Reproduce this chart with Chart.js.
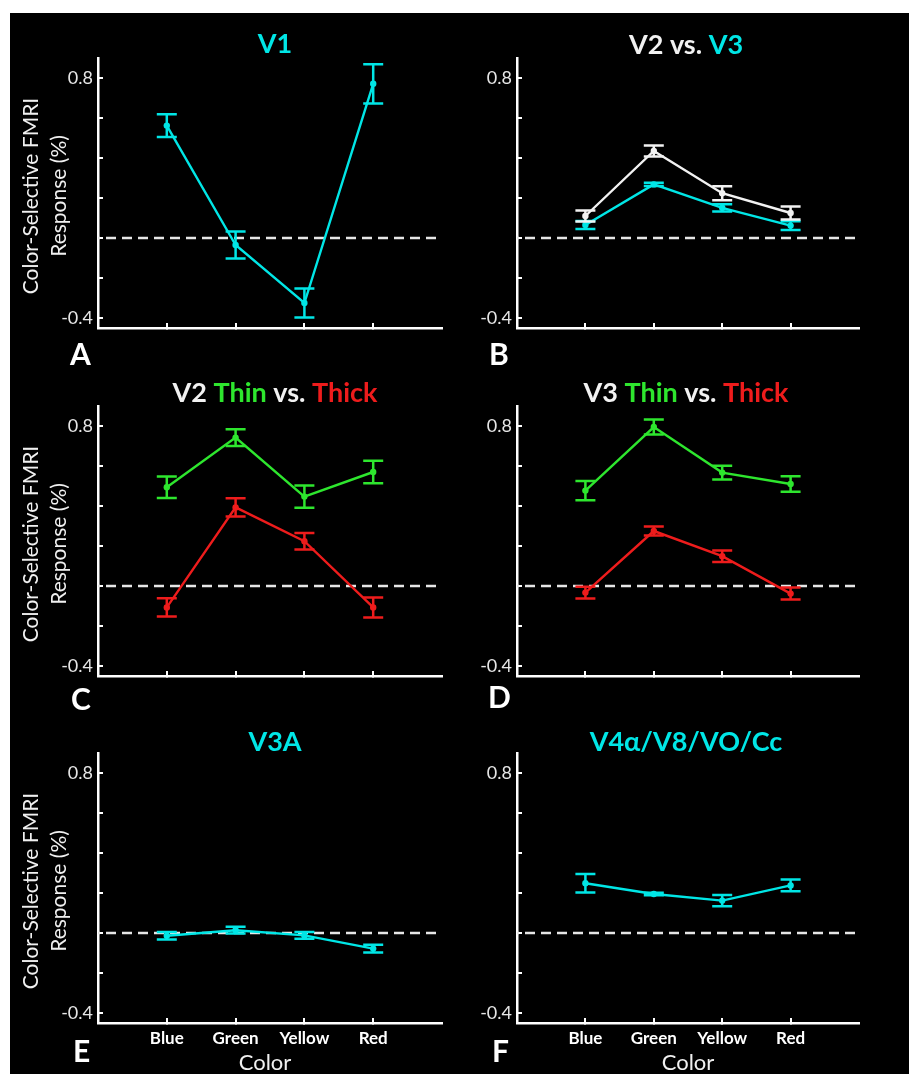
<!DOCTYPE html>
<html>
<head>
<meta charset="utf-8">
<script src="https://cdn.jsdelivr.net/npm/chart.js@4.4.1/dist/chart.umd.min.js"></script>
<style>
  body { margin: 0; background: #fff; }
  #page { position: relative; width: 909px; height: 1074px; overflow: hidden; }
  #black { position: absolute; left: 10px; top: 13px; width: 899px; height: 1061px; background: #000; }
  canvas { position: absolute; }
</style>
</head>
<body>
<div id="page">
  <div id="black"></div>
  <canvas id="chartA" width="445" height="357" style="left:10px;top:13px"></canvas>
  <canvas id="chartB" width="454" height="357" style="left:455px;top:13px"></canvas>
  <canvas id="chartC" width="445" height="350" style="left:10px;top:370px"></canvas>
  <canvas id="chartD" width="454" height="350" style="left:455px;top:370px"></canvas>
  <canvas id="chartE" width="445" height="354" style="left:10px;top:720px"></canvas>
  <canvas id="chartF" width="454" height="354" style="left:455px;top:720px"></canvas>
</div>
<script>
// Categories and tick values
const colorNames = ['Blue', 'Green', 'Yellow', 'Red'];
const colorPos = [1, 2, 3, 4];
const yTickValues = [-0.4, -0.2, 0, 0.2, 0.4, 0.6, 0.8];
const yLabelled = [-0.4, 0.8];

// Mean responses and error bars
const v1Mean = [0.562, -0.035, -0.325, 0.771];
const v1Err = [0.057, 0.067, 0.072, 0.098];

const v2Mean = [0.11, 0.435, 0.224, 0.125];
const v2Err = [0.027, 0.027, 0.035, 0.032];
const v3Mean = [0.065, 0.268, 0.151, 0.062];
const v3Err = [0.02, 0.008, 0.018, 0.022];

const v2ThinMean = [0.494, 0.742, 0.447, 0.57];
const v2ThinErr = [0.054, 0.042, 0.056, 0.056];
const v2ThickMean = [-0.107, 0.393, 0.224, -0.107];
const v2ThickErr = [0.046, 0.046, 0.041, 0.05];

const v3ThinMean = [0.477, 0.795, 0.567, 0.51];
const v3ThinErr = [0.048, 0.038, 0.034, 0.039];
const v3ThickMean = [-0.033, 0.275, 0.149, -0.038];
const v3ThickErr = [0.029, 0.023, 0.029, 0.03];

const v3aMean = [-0.014, 0.014, -0.012, -0.078];
const v3aErr = [0.019, 0.017, 0.017, 0.019];

const v4Mean = [0.249, 0.195, 0.162, 0.238];
const v4Err = [0.046, 0.006, 0.028, 0.029];

const CYAN = '#00e6e6';
const GREEN = '#2ee62e';
const RED = '#ee1c1c';
const WHITE = '#f2f2f2';

Chart.defaults.font.family = 'Lato';

function points(means) {
    return means.map((m, i) => ({ x: colorPos[i], y: m }));
}

function series(means, errs, color) {
    return {
        data: points(means),
        errors: errs,
        borderColor: color,
        backgroundColor: color,
        pointBackgroundColor: color,
        pointBorderWidth: 0,
        pointRadius: 3.2,
        borderWidth: 2.4,
        tension: 0,
        order: 0
    };
}

// dashed zero line
function zeroLine() {
    return {
        data: [{ x: 0, y: 0 }, { x: 5, y: 0 }],
        borderColor: '#e6e6e6',
        borderWidth: 2.5,
        borderDash: [10, 6],
        borderDashOffset: -8,
        pointRadius: 0,
        order: 10
    };
}

// Vertical error bars with caps
const errorBars = {
    id: 'errorBars',
    afterDatasetsDraw(chart) {
        const ctx = chart.ctx;
        const xs = chart.scales.x;
        const ys = chart.scales.y;
        chart.data.datasets.forEach(ds => {
            if (!ds.errors) return;
            ctx.save();
            ctx.strokeStyle = ds.borderColor;
            ctx.lineWidth = 2.5;
            ds.data.forEach((p, i) => {
                const px = xs.getPixelForValue(p.x);
                const top = ys.getPixelForValue(p.y + ds.errors[i]);
                const bot = ys.getPixelForValue(p.y - ds.errors[i]);
                ctx.beginPath();
                ctx.moveTo(px, top); ctx.lineTo(px, bot);
                ctx.moveTo(px - 10, top); ctx.lineTo(px + 10, top);
                ctx.moveTo(px - 10, bot); ctx.lineTo(px + 10, bot);
                ctx.stroke();
            });
            ctx.restore();
        });
    }
};

// Titles, panel letters and axis titles
function panelText(p) {
    return {
        id: 'panelText',
        afterDraw(chart) {
            const ctx = chart.ctx;
            const area = chart.chartArea;
            ctx.save();
            ctx.textBaseline = 'alphabetic';
            ctx.textAlign = 'left';
            ctx.font = 'bold 27px Lato';
            let total = 0;
            p.title.forEach(t => { total += ctx.measureText(t[0]).width; });
            let tx = p.titleX - total / 2;
            p.title.forEach(t => {
                ctx.fillStyle = t[1];
                ctx.fillText(t[0], tx, p.titleY);
                tx += ctx.measureText(t[0]).width;
            });

            ctx.font = 'bold 30px Lato';
            ctx.fillStyle = '#fff';
            ctx.fillText(p.letter, p.letterX, p.letterY);

            if (p.yTitle) {
                const cy = (area.top + area.bottom) / 2 + 3;
                ctx.font = '21px Lato';
                ctx.textAlign = 'center';
                ctx.textBaseline = 'middle';
                ctx.fillStyle = '#f0f0f0';
                ctx.save();
                ctx.translate(21, cy);
                ctx.rotate(-Math.PI / 2);
                ctx.fillText('Color-Selective FMRI', 0, 0);
                ctx.restore();
                ctx.save();
                ctx.translate(49, cy);
                ctx.rotate(-Math.PI / 2);
                ctx.fillText('Response (%)', 0, 0);
                ctx.restore();
            }

            if (p.showX) {
                ctx.font = '22px Lato';
                ctx.textAlign = 'center';
                ctx.textBaseline = 'alphabetic';
                ctx.fillStyle = '#f0f0f0';
                ctx.fillText('Color', p.xTitleX, p.xTitleY);
            }
            ctx.restore();
        }
    };
}

function makeChart(id, p) {
    return new Chart(document.getElementById(id), {
        type: 'line',
        data: { datasets: p.series.concat([zeroLine()]) },
        options: {
            responsive: false,
            animation: false,
            events: [],
            layout: { padding: { left: 0, top: p.top, right: p.right, bottom: 0 } },
            plugins: { legend: { display: false }, tooltip: { enabled: false } },
            scales: {
                x: {
                    type: 'linear',
                    min: 0,
                    max: 5,
                    afterFit: s => { s.height = p.xH; },
                    afterBuildTicks: s => { s.ticks = colorPos.map(v => ({ value: v })); },
                    border: { color: '#fff', width: 2.5 },
                    grid: { drawOnChartArea: false, tickLength: -5, color: '#fff', lineWidth: 2 },
                    ticks: {
                        autoSkip: false,
                        maxRotation: 0,
                        padding: 10,
                        color: '#fff',
                        font: { size: 17, weight: 'bold' },
                        callback: v => p.showX ? colorNames[v - 1] : ''
                    }
                },
                y: {
                    min: -0.45,
                    max: 0.9,
                    afterFit: s => { s.width = p.yW; },
                    afterBuildTicks: s => { s.ticks = yTickValues.map(v => ({ value: v })); },
                    border: { color: '#fff', width: 2.5 },
                    grid: { drawOnChartArea: false, tickLength: -5, color: '#fff', lineWidth: 2 },
                    ticks: {
                        padding: 10,
                        color: '#e6e6e6',
                        font: { size: 18 },
                        callback: v => yLabelled.some(l => Math.abs(l - v) < 1e-9) ? String(v) : ''
                    }
                }
            }
        },
        plugins: [errorBars, panelText(p)]
    });
}

const leftCol = { yW: 88, right: 13, titleX: 265, yTitle: true, xTitleX: 255 };
const rightCol = { yW: 62, right: 50, titleX: 231, yTitle: false, xTitleX: 233 };

makeChart('chartA', Object.assign({}, leftCol, {
    top: 45, xH: 42, titleY: 40, letter: 'A', letterX: 60, letterY: 352, showX: false,
    title: [['V1', CYAN]],
    series: [series(v1Mean, v1Err, CYAN)]
}));

makeChart('chartB', Object.assign({}, rightCol, {
    top: 45, xH: 42, titleY: 41, letter: 'B', letterX: 34, letterY: 352, showX: false,
    title: [['V2 vs. ', WHITE], ['V3', CYAN]],
    series: [series(v3Mean, v3Err, CYAN), series(v2Mean, v2Err, WHITE)]
}));

makeChart('chartC', Object.assign({}, leftCol, {
    top: 36, xH: 44, titleY: 32, letter: 'C', letterX: 61, letterY: 340, showX: false,
    title: [['V2 ', WHITE], ['Thin ', GREEN], ['vs. ', WHITE], ['Thick', RED]],
    series: [series(v2ThinMean, v2ThinErr, GREEN), series(v2ThickMean, v2ThickErr, RED)]
}));

makeChart('chartD', Object.assign({}, rightCol, {
    top: 36, xH: 44, titleY: 32, letter: 'D', letterX: 33, letterY: 338, showX: false,
    title: [['V3 ', WHITE], ['Thin ', GREEN], ['vs. ', WHITE], ['Thick', RED]],
    series: [series(v3ThinMean, v3ThinErr, GREEN), series(v3ThickMean, v3ThickErr, RED)]
}));

makeChart('chartE', Object.assign({}, leftCol, {
    top: 33, xH: 51, titleY: 31, letter: 'E', letterX: 63, letterY: 342, showX: true, xTitleY: 350,
    title: [['V3A', CYAN]],
    series: [series(v3aMean, v3aErr, CYAN)]
}));

makeChart('chartF', Object.assign({}, rightCol, {
    top: 33, xH: 51, titleY: 31, letter: 'F', letterX: 37, letterY: 342, showX: true, xTitleY: 350,
    title: [['V4α/V8/VO/Cc', CYAN]],
    series: [series(v4Mean, v4Err, CYAN)]
}));
</script>
</body>
</html>
